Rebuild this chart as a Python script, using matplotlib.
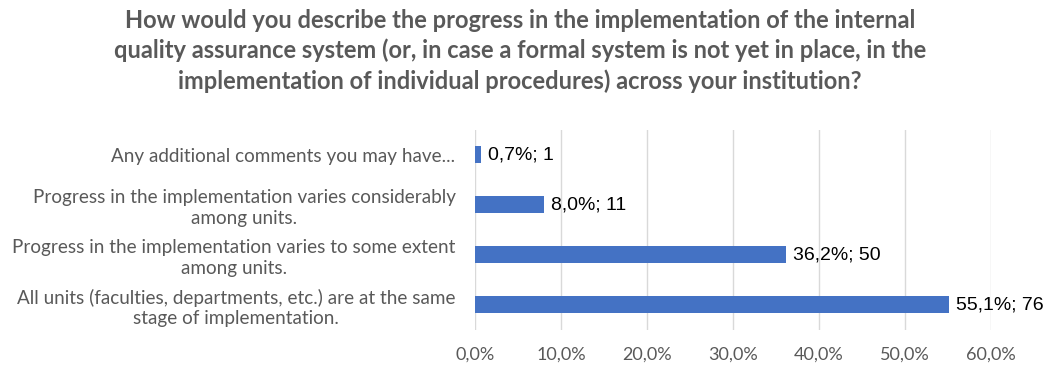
import matplotlib
matplotlib.use("Agg")
import matplotlib.pyplot as plt
from matplotlib.ticker import FuncFormatter

title = ("How would you describe the progress in the implementation of the internal\n"
         "quality assurance system (or, in case a formal system is not yet in place, in the\n"
         "implementation of individual procedures) across your institution?")

# bottom to top
categories = [
    "All units (faculties, departments, etc.) are at the same\nstage of implementation.",
    "Progress in the implementation varies to some extent\namong units.",
    "Progress in the implementation varies considerably\namong units.",
    "Any additional comments you may have...",
]
shares = [55.1, 36.2, 8.0, 0.7]
counts = [76, 50, 11, 1]
x_ticks = [0, 10, 20, 30, 40, 50, 60]

bar_color = "#4472C4"
text_gray = "#595959"
label_font = ["Lato", "DejaVu Sans"]

fig = plt.figure(figsize=(10.58, 3.66), dpi=100)
ax = fig.add_axes([0.449, 0.0984, 0.9367 - 0.449, 0.645 - 0.0984])

y = range(len(categories))
ax.barh(y, shares, height=0.34, color=bar_color, zorder=3)

for yi, s, c in zip(y, shares, counts):
    ax.text(s + 0.8, yi, f"{s:.1f}%; {c}".replace(".", ","), va="center", ha="left",
            fontsize=14, color="black", family=["Liberation Sans", "DejaVu Sans"])

ax.set_xlim(0, 60)
ax.set_ylim(-0.5, len(categories) - 0.5)
ax.set_xticks(x_ticks)
ax.xaxis.set_major_formatter(FuncFormatter(lambda v, p: f"{v:.1f}%".replace(".", ",")))
ax.set_yticks(list(y))
ax.set_yticklabels(categories, multialignment="center", linespacing=1.22)
ax.tick_params(axis="both", length=0, colors=text_gray)
ax.tick_params(axis="y", labelsize=13.6, pad=14)
ax.tick_params(axis="x", labelsize=13, pad=12)
for lbl in ax.get_xticklabels() + ax.get_yticklabels():
    lbl.set_family(label_font)

ax.grid(axis="x", color="#d9d9d9", linewidth=1, zorder=0)
for side in ax.spines.values():
    side.set_visible(False)

fig.text(0.4915, 0.975, title, ha="center", va="top", fontsize=17, fontweight="bold",
         color=text_gray, family=label_font, linespacing=1.34)

fig.savefig("out.png", dpi=100)
